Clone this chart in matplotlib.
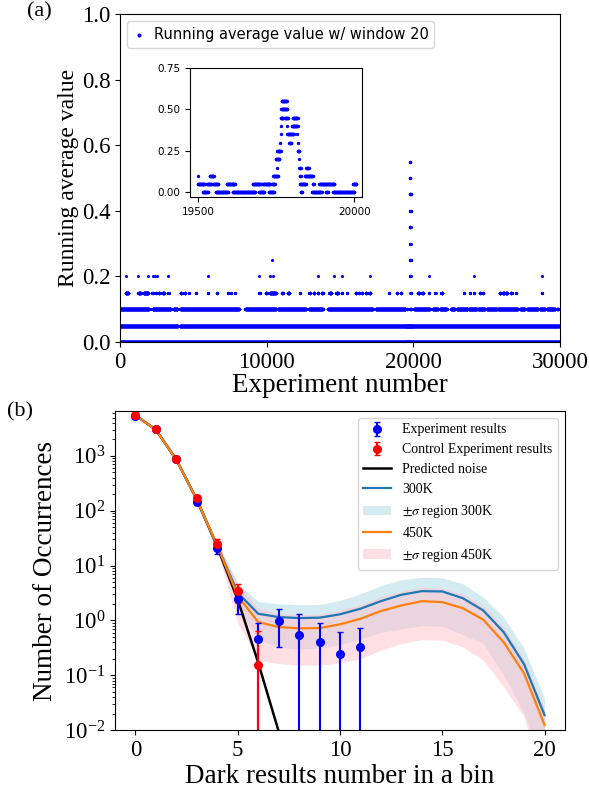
import numpy as np
import matplotlib
matplotlib.use("Agg")
import matplotlib.pyplot as plt

plt.rcParams["font.family"] = "serif"
plt.rcParams["font.serif"] = ["Liberation Serif", "DejaVu Serif"]
plt.rcParams["mathtext.fontset"] = "stix"

# ---- panel (a): running average (window 20), runs of experiment numbers per level
LEVEL_000_RUNS = [(0, 29990)]
LEVEL_005_RUNS = [(0, 3950), (4080, 29950)]
LEVEL_010_RUNS = [(0, 1980), (2210, 3460), (3640, 3920), (4100, 8130), (8540, 10640),
                  (10750, 12690), (12870, 13830), (14170, 17240), (17430, 19450),
                  (20050, 21120), (21300, 21690), (21800, 22280), (22550, 22830),
                  (22960, 23710), (23780, 24330), (24400, 24880), (25010, 25700),
                  (25760, 27130), (27270, 27610), (27750, 28500), (28630, 28980),
                  (29110, 29660), (29800, 29860)]
LEVEL_015_RUNS = [(387, 569), (1253, 1412), (1594, 1936), (2210, 2230), (2440, 2460),
                  (2660, 2700), (2900, 3007), (3303, 3310), (4146, 4200), (4400, 4442),
                  (4715, 4720), (5171, 5176), (5968, 5975), (6583, 6600), (7335, 7340),
                  (7563, 7570), (7859, 7865), (9453, 9460), (9545, 9550), (9955, 10000),
                  (10200, 10638), (11049, 11100), (11450, 11550), (12279, 12285),
                  (12917, 12950), (13200, 13258), (13486, 13520), (13780, 13828),
                  (14283, 14400), (14750, 14853), (15149, 15155), (15491, 15497),
                  (16060, 16100), (16300, 16320), (16490, 16516), (16744, 16780),
                  (17000, 17063), (18338, 18344), (18885, 18920), (19150, 19181),
                  (20320, 20400), (20600, 20662), (21072, 21078), (21505, 21511),
                  (21914, 21983), (23463, 23469), (23850, 23856), (24147, 24153),
                  (24534, 24560), (24740, 24762), (25900, 25950), (26100, 26200),
                  (26300, 26400), (26650, 26698), (26994, 27000), (28748, 28754)]
LEVEL_020_X = [387, 1253, 1936, 2278, 2400, 2505, 3303, 6014, 9499, 10250, 10410,
               13532, 14625, 15149, 17017, 21072, 24147, 28748]
LEVEL_025_X = [10365]

# zoomed region 19500-20000: (start, end, value)
PEAK_RUNS = [
    (19516, 19532, 0.0), (19557, 19597, 0.0), (19611, 19684, 0.0), (19695, 19713, 0.0),
    (19727, 19743, 0.0), (19829, 19833, 0.0), (19865, 19896, 0.0), (19910, 19916, 0.0),
    (19932, 20000, 0.0),
    (19500, 19522, 0.05), (19529, 19543, 0.05), (19549, 19565, 0.05), (19592, 19619, 0.05),
    (19676, 19702, 0.05), (19708, 19732, 0.05), (19737, 19746, 0.05), (19827, 19846, 0.05),
    (19867, 19870, 0.05), (19889, 19937, 0.05), (19996, 20007, 0.05),
    (19500, 19500, 0.10), (19538, 19551, 0.10), (19741, 19756, 0.10), (19827, 19829, 0.10),
    (19842, 19868, 0.10),
    (19752, 19752, 0.15), (19825, 19829, 0.15), (19847, 19854, 0.15),
    (19749, 19760, 0.20), (19824, 19824, 0.20),
    (19754, 19765, 0.25), (19819, 19825, 0.25),
    (19762, 19762, 0.30), (19793, 19799, 0.30), (19819, 19819, 0.30),
    (19765, 19765, 0.35), (19786, 19806, 0.35), (19816, 19816, 0.35),
    (19767, 19767, 0.40), (19786, 19786, 0.40), (19801, 19819, 0.40),
    (19765, 19773, 0.45), (19778, 19788, 0.45), (19803, 19819, 0.45),
    (19767, 19786, 0.50),
    (19768, 19784, 0.55),
]

# ---- panel (b): dark results histogram
BINS = list(range(21))
EXP_X = list(range(12))
EXP_Y = [5450, 3050, 860, 145, 21, 2.5, 0.45, 0.98, 0.53, 0.40, 0.24, 0.32]
EXP_ERR = [75, 55, 30, 12, 4.5, 1.2, 0.46, 0.65, 0.76, 0.48, 0.37, 0.40]
CTRL_X = list(range(7))
CTRL_Y = [5500, 3100, 870, 168, 25, 3.4, 0.152]
CTRL_ERR = [75, 56, 30, 13, 5, 1.3, 0.48]
NOISE_X = list(range(9))
NOISE_Y = [5500, 3000, 850, 160, 22, 2.4, 0.17, 0.0095, 0.0004]
MEAN_300K = [5500, 3000, 850, 160, 23, 3.2, 1.32, 1.15, 1.10, 1.12, 1.29, 1.63, 2.24,
             2.93, 3.41, 3.37, 2.54, 1.52, 0.61, 0.158, 0.0187]
UP_300K = [5600, 3080, 880, 172, 27, 4.8, 2.21, 2.01, 1.93, 1.95, 2.31, 3.06, 4.33,
           5.5, 6.14, 5.97, 4.65, 2.65, 1.15, 0.305, 0.0377]
LO_300K = [5400, 2920, 820, 148, 19, 1.7, 0.45, 0.32, 0.30, 0.31, 0.36, 0.46, 0.6,
           0.7, 0.8, 0.78, 0.55, 0.38, 0.1, 0.02, 0.002]
MEAN_450K = [5500, 3000, 850, 160, 23, 2.8, 0.93, 0.755, 0.715, 0.724, 0.846, 1.07, 1.48,
             1.87, 2.24, 2.15, 1.67, 1.03, 0.40, 0.107, 0.0123]
UP_450K = [5600, 3080, 880, 172, 27, 4.6, 1.67, 1.35, 1.28, 1.29, 1.53, 1.94, 2.68,
           3.36, 4.04, 3.87, 3.01, 1.87, 0.74, 0.197, 0.024]
LO_450K = [5400, 2920, 820, 148, 19, 0.9, 0.187, 0.163, 0.152, 0.152, 0.167, 0.2, 0.285,
           0.377, 0.445, 0.433, 0.327, 0.187, 0.061, 0.0175, 0.001]


def runs_to_points(runs, level):
    xs = np.concatenate([np.arange(a, b + 1) for a, b in runs])
    return xs, np.full(len(xs), level)


def peak_points():
    xs, ys = [], []
    for a, b, v in PEAK_RUNS:
        x = np.arange(a, b + 1)
        xs.append(x)
        ys.append(np.full(len(x), v))
    return np.concatenate(xs), np.concatenate(ys)


def running_average_points():
    xs, ys = [], []
    for runs, lev in [(LEVEL_000_RUNS, 0.0), (LEVEL_005_RUNS, 0.05),
                      (LEVEL_010_RUNS, 0.10), (LEVEL_015_RUNS, 0.15)]:
        x, y = runs_to_points(runs, lev)
        xs.append(x)
        ys.append(y)
    for pts, lev in [(LEVEL_020_X, 0.20), (LEVEL_025_X, 0.25)]:
        xs.append(np.array(pts))
        ys.append(np.full(len(pts), lev))
    px, py = peak_points()
    xs.append(px)
    ys.append(py)
    return np.concatenate(xs), np.concatenate(ys)


def plot_running_average(fig):
    ax = fig.add_axes([0.2037, 0.5714, 0.7471, 0.4111])
    x, y = running_average_points()
    ax.scatter(x, y, s=5, color="blue", linewidths=0,
               label="Running average value w/ window 20")
    ax.set_xlim(0, 30000)
    ax.set_ylim(0, 1.0)
    ax.set_xticks([0, 10000, 20000, 30000])
    ax.set_yticks([0.0, 0.2, 0.4, 0.6, 0.8, 1.0])
    ax.tick_params(labelsize=16.5)
    ax.set_xlabel("Experiment number", fontsize=19.5, labelpad=0)
    ax.set_ylabel("Running average value", fontsize=17, labelpad=2)
    ax.legend(loc="upper left", scatterpoints=1, markerscale=1.3,
              handlelength=0.8, handletextpad=0.6,
              prop={"family": "DejaVu Sans", "size": 10.5})

    ins = fig.add_axes([0.3226, 0.7531, 0.2920, 0.1617])
    px, py = peak_points()
    ins.scatter(px, py, s=6, color="blue", linewidths=0)
    ins.set_xlim(19475, 20025)
    ins.set_ylim(-0.0275, 0.75)
    ins.set_xticks([19500, 20000])
    ins.set_yticks([0.0, 0.25, 0.5, 0.75])
    ins.set_yticklabels(["0.00", "0.25", "0.50", "0.75"])
    for lab in ins.get_xticklabels() + ins.get_yticklabels():
        lab.set_family("DejaVu Sans")
        lab.set_fontsize(7.5)


def plot_histogram(fig):
    ax = fig.add_axes([0.1952, 0.0852, 0.7641, 0.3998])
    f1 = ax.fill_between(BINS, LO_300K, UP_300K, color="lightblue", alpha=0.5,
                         linewidth=0, label=r"$\pm\sigma$ region 300K")
    f2 = ax.fill_between(BINS, LO_450K, UP_450K, color="pink", alpha=0.5,
                         linewidth=0, label=r"$\pm\sigma$ region 450K")
    l0, = ax.plot(NOISE_X, NOISE_Y, color="black", lw=1.8, label="Predicted noise")
    l1, = ax.plot(BINS, MEAN_300K, color="C0", lw=1.6, label="300K")
    l2, = ax.plot(BINS, MEAN_450K, color="C1", lw=1.6, label="450K")
    e1 = ax.errorbar(EXP_X, EXP_Y, yerr=EXP_ERR, fmt="o", color="blue", ms=5.5,
                     capsize=2, elinewidth=1.5, label="Experiment results")
    e2 = ax.errorbar(CTRL_X, CTRL_Y, yerr=CTRL_ERR, fmt="o", color="red", ms=5.5,
                     capsize=2, elinewidth=1.5, label="Control Experiment results")
    ax.set_yscale("log")
    ax.set_xlim(-1, 21)
    ax.set_ylim(1e-2, 6600)
    ax.set_xticks([0, 5, 10, 15, 20])
    ax.tick_params(labelsize=16.5)
    ax.set_xlabel("Dark results number in a bin", fontsize=19.5, labelpad=2)
    ax.set_ylabel("Number of Occurrences", fontsize=19.5, labelpad=4)
    ax.legend(handles=[e1, e2, l0, l1, f1, l2, f2], loc="upper right", fontsize=10)


def main():
    fig = plt.figure(figsize=(5.89, 7.98), dpi=100)
    plot_running_average(fig)
    plot_histogram(fig)
    fig.text(0.045, 0.997, "(a)", fontsize=16, va="top", ha="left")
    fig.text(0.012, 0.496, "(b)", fontsize=16, va="top", ha="left")
    fig.savefig("out.png", dpi=100)


if __name__ == '__main__':
    main()
